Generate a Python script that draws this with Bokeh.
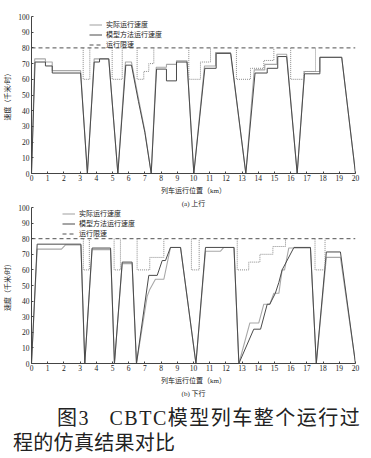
from bokeh.plotting import figure
from bokeh.models import Legend, LegendItem, Div, FixedTicker, Range1d, Title
from bokeh.layouts import column
from bokeh.embed import file_html
from bokeh.resources import INLINE

# ---------------- data ----------------
x_ticks = list(range(0, 21))
y_ticks = list(range(0, 101, 10))
limit_max = 80

# (a) 上行
a_actual_pos = [0, 0.2, 0.86, 0.86, 1.28, 1.28, 3.03, 3.45, 3.87, 4.77, 5.33, 5.8, 6.17, 6.6, 7.0, 7.39,
                7.7, 8.33, 8.33, 8.95, 8.95, 9.6, 10.02, 10.68, 11.36, 11.36, 12.28, 13.23,
                13.75, 14.4, 14.4, 15.15, 15.15, 15.75, 16.4, 16.85, 17.8, 17.8, 19.15, 20]
a_actual_spd = [0, 73, 73, 71, 71, 65.5, 65.5, 0, 73, 73, 0, 71, 71, 48, 27, 0,
                67.7, 67.7, 69.5, 69.5, 71.8, 71.8, 0, 68.5, 68.5, 77, 77, 0,
                66, 66, 69.5, 69.5, 76, 76, 0, 65, 65, 74, 74, 0]
a_model_pos = [0, 0.22, 0.86, 0.86, 1.28, 1.28, 3.03, 3.45, 3.87, 4.2, 4.2, 4.77, 5.33, 5.82, 6.17, 6.6, 7.0, 7.39,
               7.72, 8.33, 8.33, 8.95, 8.95, 9.6, 10.02, 10.7, 11.4, 11.4, 12.3, 13.23,
               13.8, 14.55, 14.55, 15.2, 15.2, 15.75, 16.4, 16.85, 17.8, 17.8, 19.15, 20]
a_model_spd = [0, 71, 71, 68.5, 68.5, 64, 64, 0, 71, 71, 73, 73, 0, 69, 69, 46, 26, 0,
               66.5, 66.5, 59, 59, 71, 71, 0, 67, 67, 76.5, 76.5, 0,
               64, 64, 67, 67, 74.5, 74.5, 0, 63.5, 63.5, 74, 74, 0]
nan = float("nan")
a_limit_pos = [3.19, 3.19, 3.6, 3.6, nan,
               4.98, 4.98, 5.6, 5.6, nan,
               6.52, 6.52, 6.93, 6.93, 7.24, 7.24, 7.55, 7.55, nan,
               9.71, 9.71, 10.43, 10.43, 11.05, 11.05, nan,
               12.65, 12.65, 13.52, 13.52, 14.34, 14.34, 14.96, 14.96, nan,
               16.0, 16.0, 16.8, 16.8, 17.53, 17.53]
a_limit_spd = [80, 60, 60, 80, nan,
               80, 60, 60, 80, nan,
               80, 60, 60, 65, 65, 70, 70, 80, nan,
               80, 60, 60, 71, 71, 80, nan,
               80, 60, 60, 67, 67, 72, 72, 80, nan,
               80, 60, 60, 65, 65, 80]

# (b) 下行
b_actual_pos = [0, 0.35, 1.85, 2.1, 3.05, 3.29, 3.74, 4.88, 5.12, 5.6, 6.21, 6.48,
                7.14, 7.3, 7.65, 8.17, 8.58, 9.2, 10.15, 10.74, 11.67, 11.87, 12.5, 12.8,
                13.48, 14.03, 14.34, 14.71, 14.96, 15.27, 15.47, 15.62, 15.88, 17.22, 17.58,
                18.2, 19.07, 20]
b_actual_spd = [0, 73.3, 73.3, 76, 76, 0, 73, 73, 0, 64, 64, 0,
                43, 47.5, 54, 54, 74.4, 74.4, 0, 72, 72, 74.4, 74.4, 0,
                26, 26, 38, 38, 45, 45, 60, 60, 74, 74, 0,
                68, 68, 0]
b_model_pos = [0, 0.35, 3.05, 3.29, 3.74, 4.88, 5.12, 5.6, 6.21, 6.48,
               7.24, 7.76, 8.07, 8.27, 8.58, 9.2, 10.15, 10.74, 12.5, 12.8,
               13.72, 14.14, 14.55, 14.71, 15.05, 15.27, 15.47, 16.2, 17.22, 17.58,
               18.2, 19.07, 20]
b_model_spd = [0, 76.5, 76.5, 0, 74, 74, 0, 65, 65, 0,
               56.5, 56.5, 66, 66, 74.4, 74.4, 0, 74.4, 74.4, 0,
               22, 22, 38, 38, 45, 52, 60, 74.4, 74.4, 0,
               71.5, 71.5, 0]
b_limit_pos = [3.2, 3.2, 3.57, 3.57, nan,
               5.1, 5.1, 5.49, 5.49, nan,
               6.52, 6.52, 7.3, 7.3, 8.17, 8.17, nan,
               9.87, 9.87, 10.35, 10.35, nan,
               12.7, 12.7, 13.41, 13.41, 14.1, 14.1, 14.9, 14.9, 15.68, 15.68, nan,
               17.5, 17.5, 18.12, 18.12]
b_limit_spd = [80, 60, 60, 80, nan,
               80, 60, 60, 80, nan,
               80, 60, 60, 68, 68, 80, nan,
               80, 60, 60, 80, nan,
               80, 60, 60, 65, 65, 70, 70, 75, 75, 80, nan,
               80, 60, 60, 80]

legend_labels = ["实际运行速度", "模型方法运行速度", "运行限速"]
x_label = "列车运行位置（km）"
y_label = "速度（千米/时）"
captions = ["(a) 上行", "(b) 下行"]
fig_caption = ["图3&nbsp;&nbsp;&nbsp;CBTC模型列车整个运行过", "程的仿真结果对比"]

CJK = "Noto Sans CJK SC"
SERIF = "Liberation Serif"
MIXED = "'Liberation Serif', 'Noto Sans CJK SC'"
C_ACT = "#a8a8a8"
C_MOD = "#4a4a4a"
C_LIM = "#505050"
C_STEP = "#8a8a8a"


def caption_title(text):
    return Title(text=text, align="center", text_font=MIXED, text_font_size="7px",
                 text_font_style="normal", text_color="#222", standoff=0, offset=0)


def panel(act_x, act_y, mod_x, mod_y, lim_x, lim_y, top, fh, legend_x, legend_y,
          cap_above=None, cap_below=None):
    p = figure(width=371, frame_height=fh, x_range=Range1d(0, 20), y_range=Range1d(0, 100),
               output_backend="svg", toolbar_location=None,
               min_border_left=31, min_border_right=16, min_border_top=top, min_border_bottom=0)
    p.outline_line_color = None
    p.grid.visible = False
    p.background_fill_color = "white"
    p.border_fill_color = "white"

    r_act = p.line(act_x, act_y, line_color=C_ACT, line_width=1.1)
    r_mod = p.line(mod_x, mod_y, line_color=C_MOD, line_width=1.0)
    r_lim = p.line([0, 20], [limit_max, limit_max], line_color=C_LIM, line_width=1.0, line_dash="4 3")
    p.line(lim_x, lim_y, line_color=C_STEP, line_width=1.0, line_dash="1 1")

    for ax in (p.xaxis[0], p.yaxis[0]):
        ax.axis_line_color = "#444"
        ax.major_tick_line_color = "#444"
        ax.major_tick_in = 2
        ax.major_tick_out = 0
        ax.minor_tick_line_color = None
        ax.major_label_text_font = SERIF
        ax.major_label_text_font_size = "7.5px"
        ax.major_label_text_color = "#222"
        ax.axis_label_text_font = MIXED
        ax.axis_label_text_font_size = "7px"
        ax.axis_label_text_font_style = "normal"
        ax.axis_label_text_color = "#222"
    p.xaxis.ticker = FixedTicker(ticks=x_ticks)
    p.yaxis.ticker = FixedTicker(ticks=y_ticks)
    p.xaxis.major_label_standoff = 1
    p.yaxis.major_label_standoff = 2
    p.xaxis.axis_label = x_label
    p.yaxis.axis_label = y_label
    p.xaxis.axis_label_standoff = 3
    p.yaxis.axis_label_standoff = 3

    leg = Legend(items=[LegendItem(label=legend_labels[0], renderers=[r_act]),
                        LegendItem(label=legend_labels[1], renderers=[r_mod]),
                        LegendItem(label=legend_labels[2], renderers=[r_lim])],
                 location=(legend_x, legend_y), padding=0, margin=0, spacing=-2,
                 label_height=7, glyph_height=7, glyph_width=13, label_standoff=4,
                 label_text_font=CJK, label_text_font_size="7px", label_text_color="#222",
                 background_fill_alpha=0, border_line_alpha=0)
    p.add_layout(leg, "center")
    if cap_above is not None:
        p.add_layout(caption_title(cap_above), "above")
    if cap_below is not None:
        p.add_layout(caption_title(cap_below), "below")
    return p


pa = panel(a_actual_pos, a_actual_spd, a_model_pos, a_model_spd, a_limit_pos, a_limit_spd,
           16, 157, 58, 124)
# the "(a) 上行" sub-caption sits in the gap between the two panels
pb = panel(b_actual_pos, b_actual_spd, b_model_pos, b_model_spd, b_limit_pos, b_limit_spd,
           0, 156, 31, 125, cap_above=captions[0], cap_below=captions[1])

cap = Div(text=("<div style=\"font-family:'Liberation Serif','Noto Sans CJK SC';font-size:20px;"
                "line-height:25px;color:#222;padding-top:4px;white-space:nowrap;\">"
                "<span style=\"padding-left:52px;letter-spacing:1.5px\">" + fig_caption[0] + "</span><br>"
                "<span style=\"padding-left:8px;letter-spacing:0.3px\">" + fig_caption[1] + "</span></div>"),
          width=371, height=54)

layout = column(pa, pb, cap, spacing=0)
open("out.html", "w").write(file_html(layout, INLINE))
